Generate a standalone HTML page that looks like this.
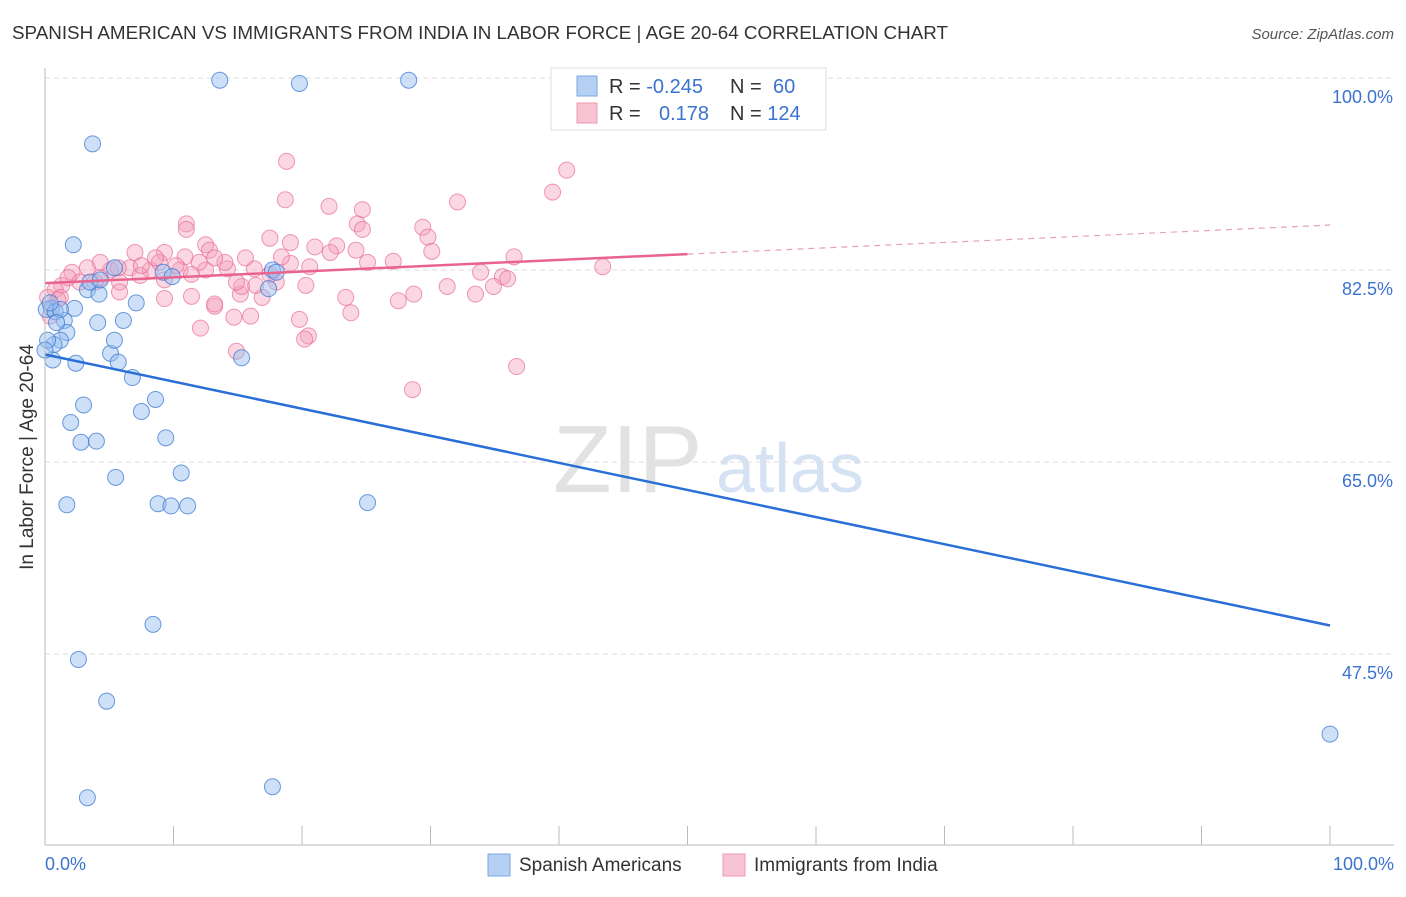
<!DOCTYPE html>
<html><head><meta charset="utf-8"><style>
body{margin:0;background:#fff;font-family:"Liberation Sans",sans-serif}
svg text{font-family:"Liberation Sans",sans-serif}
</style></head><body>
<svg id="c" width="1406" height="892" viewBox="0 0 1406 892">
<text x="12" y="39" font-size="18" fill="#333" textLength="936" lengthAdjust="spacingAndGlyphs">SPANISH AMERICAN VS IMMIGRANTS FROM INDIA IN LABOR FORCE | AGE 20-64 CORRELATION CHART</text>
<text x="1394" y="39" font-size="15" fill="#555" font-style="italic" text-anchor="end">Source: ZipAtlas.com</text>
<text transform="translate(33,457) rotate(-90)" font-size="19" fill="#333" text-anchor="middle">In Labor Force | Age 20-64</text>
<g>
<text x="553" y="492" font-size="96" font-family="Liberation Serif,serif" fill="#e2e2e2">ZIP</text>
<text x="716" y="492" font-size="70" fill="#d4e2f3">atlas</text>
</g>
<g id="grid"></g><g id="marks"></g><g id="axes"></g>
<g>
<rect x="551" y="68" width="275" height="62" fill="#fff" stroke="#ddd"/>
<rect x="577" y="76" width="20" height="20" fill="#b5d0f2" stroke="#7aa7e0"/>
<rect x="577" y="103" width="20" height="20" fill="#f7c4d4" stroke="#ee9ab5"/>
<text x="609" y="93" font-size="20" fill="#333">R = <tspan fill="#3b73d1">-0.245</tspan></text>
<text x="730" y="93" font-size="20" fill="#333">N = <tspan x="773" fill="#3b73d1">60</tspan></text>
<text x="609" y="120" font-size="20" fill="#333">R = <tspan x="659" fill="#3b73d1">0.178</tspan></text>
<text x="730" y="120" font-size="20" fill="#333">N = <tspan fill="#3b73d1">124</tspan></text>
</g>
<g>
<rect x="488" y="854" width="22" height="22" fill="#b5d0f2" stroke="#7aa7e0"/>
<text x="519" y="871" font-size="19" fill="#333">Spanish Americans</text>
<rect x="723" y="854" width="22" height="22" fill="#f7c4d4" stroke="#ee9ab5"/>
<text x="754" y="871" font-size="19" fill="#333">Immigrants from India</text>
</g>
</svg>
<script>
const yTicks=[100,82.5,65,47.5];
const yTickLabels=["100.0%","82.5%","65.0%","47.5%"];
const xTicks=[0,10,20,30,40,50,60,70,80,90,100];
const blueX=[13.6,19.8,28.3,3.7,2.2,17.7,5.4,3.3,4.2,7.1,6.1,4.1,0.5,2.3,1.5,1.7,1.2,0.7,5.1,5.7,5.4,2.4,0.6,15.3,6.8,3.0,7.5,8.6,2.0,9.4,2.8,4.0,5.5,10.6,1.7,8.8,9.8,11.1,25.1,8.4,2.6,4.8,3.3,17.7,100,9.2,9.9,0.1,0.8,1.2,0.2,3.5,18.0,17.4,0.4,0,0.9,4.3];
const blueY=[99.8,99.5,99.8,94.0,84.8,82.5,82.7,80.7,80.3,79.5,77.9,77.7,79.0,79.0,77.9,76.8,76.1,75.7,74.9,74.1,76.1,74.0,74.3,74.5,72.7,70.2,69.6,70.7,68.6,67.2,66.8,66.9,63.6,64.0,61.1,61.2,61.0,61.0,61.3,50.2,47.0,43.2,34.4,35.4,40.2,82.3,81.9,78.9,78.7,78.9,76.1,81.4,82.3,80.8,79.5,75.2,77.7,81.6];
const pinkX=[18.8,18.7,22.1,24.7,24.3,24.7,32.1,39.5,40.6,29.4,29.8,30.1,11.0,11.0,17.5,19.1,21.0,22.7,24.2,22.2,12.5,12.8,9.3,10.9,25.1,27.1,36.5,43.4,33.9,35.6,36.0,34.9,33.5,31.3,28.7,27.5,23.4,23.8,20.3,19.8,20.5,20.2,14.9,12.1,13.2,14.7,16.0,36.7,28.6,9.3,11.4,13.2,15.2,16.9,15.3,16.4,18.0,16.3,14.2,12.5,10.5,8.2,6.6,5.1,3.3,2.1,1.3,0.8,0.2,0.4,1.2,2.7,4.3,5.8,7.4,8.9,12.0,14.0,15.6,19.1,14.9,5.8,3.9,7.0,8.6,10.2,13.2,18.4,20.6,1.8,1.0,7.5,5.7,4.3,9.3,11.4,17.5];
const pinkY=[92.4,88.9,88.3,88.0,86.7,86.2,88.7,89.6,91.6,86.4,85.5,84.2,86.7,86.2,85.4,85.0,84.6,84.7,84.3,84.1,84.8,84.3,84.1,83.7,83.2,83.3,83.7,82.8,82.3,81.9,81.7,81.0,80.3,81.0,80.3,79.7,80.0,78.6,81.1,78.0,76.5,76.2,75.1,77.2,79.2,78.2,78.3,73.7,71.6,79.9,80.1,79.4,80.3,80.0,81.0,81.1,81.4,82.6,82.6,82.5,82.5,82.5,82.7,82.5,82.7,82.3,81.1,80.7,80.0,78.3,80.0,81.4,81.8,81.4,82.0,83.2,83.2,83.2,83.6,83.1,81.4,80.5,81.4,84.1,83.6,82.9,83.6,83.7,82.8,81.8,79.8,82.9,82.7,83.2,81.6,82.1,82.1];
const blueTrend=[74.8,50.1];
const pinkTrend=[81.3,86.6];
const pinkSolidEnd=50;
const X=v=>45+v*12.85;
const Y=v=>78+(100-v)/17.5*192;
const NS="http://www.w3.org/2000/svg";
function mk(parent,tag,attrs){const e=document.createElementNS(NS,tag);for(const k in attrs)e.setAttribute(k,attrs[k]);parent.appendChild(e);return e;}
const grid=document.getElementById('grid'),marks=document.getElementById('marks'),axes=document.getElementById('axes');
yTicks.forEach((t,i)=>{
 const l=mk(grid,'line',{x1:45,x2:1394,y1:Y(t),y2:Y(t),stroke:'#ddd','stroke-dasharray':'5,4'});
 
 
 const tx=mk(axes,'text',{x:1393,y:Y(t)+25,'font-size':18,fill:'#3b73d1','text-anchor':'end'});
 tx.textContent=yTickLabels[i];
 
 
});
const ax=mk(axes,'line',{x1:45,x2:45,y1:68,y2:845,stroke:'#bbb'});


const bx=mk(axes,'line',{x1:45,x2:1394,y1:845,y2:845,stroke:'#bbb'});


xTicks.forEach(t=>{
 const l=mk(axes,'line',{x1:X(t),x2:X(t),y1:826,y2:845,stroke:'#bbb'});
 
 
});
[[0,"0.0%",'start',45],[100,"100.0%",'end',1394]].forEach(a=>{
 const t=mk(axes,'text',{x:a[3],y:870,'font-size':18,fill:'#3b73d1','text-anchor':a[2]});
 t.textContent=a[1];
 
 
});
pinkX.forEach((x,i)=>{
 const c=mk(marks,'circle',{cx:X(x),cy:Y(pinkY[i]),r:8,fill:'rgba(244,160,188,0.42)',stroke:'rgba(232,110,150,0.7)','stroke-width':1});
 
 
});
blueX.forEach((x,i)=>{
 const c=mk(marks,'circle',{cx:X(x),cy:Y(blueY[i]),r:8,fill:'rgba(150,190,240,0.48)',stroke:'rgba(60,120,210,0.75)','stroke-width':1});
 
 
});
const pAt=x=>pinkTrend[0]+(pinkTrend[1]-pinkTrend[0])*x/100;
const pl=mk(marks,'line',{x1:X(0),y1:Y(pinkTrend[0]),x2:X(pinkSolidEnd),y2:Y(pAt(pinkSolidEnd)),stroke:'#e8648e','stroke-width':2.5});


const pd=mk(marks,'line',{x1:X(pinkSolidEnd),y1:Y(pAt(pinkSolidEnd)),x2:X(100),y2:Y(pinkTrend[1]),stroke:'#e8a0b8','stroke-width':1.2,'stroke-dasharray':'6,5'});


const bl=mk(marks,'line',{x1:X(0),y1:Y(blueTrend[0]),x2:X(100),y2:Y(blueTrend[1]),stroke:'#2a6fd6','stroke-width':2.5});


</script>
</body></html>
